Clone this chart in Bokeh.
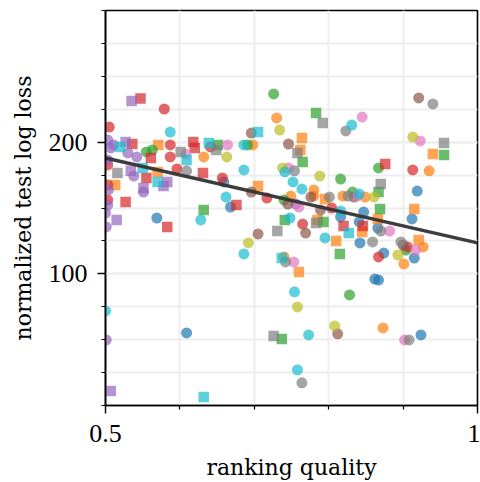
from bokeh.plotting import figure
from bokeh.models import FixedTicker, Range1d, ColumnDataSource
from bokeh.embed import file_html
from bokeh.resources import INLINE

# ---------------- data ----------------
blue_quality = [0.659, 0.668, 0.569, 0.609, 0.816, 0.847, 0.841, 0.866, 0.919, 0.912, 0.842, 0.874, 0.915, 0.862, 0.867, 0.924]
blue_loss    = [169.8, 150.7, 142.4, 55.1, 143.2, 146.9, 139.4, 134.8, 162.9, 141.7, 123.5, 115.8, 112.0, 96.0, 95.3, 53.6]
blue_shape   = ["c"] * 16

orange_quality = [0.571, 0.632, 0.570, 0.513, 0.730, 0.698, 0.764, 0.762, 0.705, 0.749, 0.780, 0.780, 0.795, 0.819,
                  0.849, 0.940, 0.935, 0.915, 0.921, 0.927, 0.901, 0.785, 0.810, 0.866, 0.845, 0.740, 0.760, 0.873]
orange_loss    = [197.9, 188.8, 177.4, 167.5, 218.4, 197.9, 203.2, 194.1, 166.7, 159.1, 163.7, 159.1, 156.8, 159.1,
                  158.3, 191.0, 178.2, 149.2, 125.7, 120.4, 107.5, 140.9, 125.0, 141.7, 131.8, 112.8, 101.4, 58.9]
orange_shape   = ["s", "c", "s", "s", "c", "c", "s", "s", "s", "c", "c", "c", "s", "c",
                  "c", "s", "c", "s", "s", "c", "c", "s", "s", "s", "s", "c", "s", "c"]

green_quality = [0.555, 0.563, 0.651, 0.632, 0.726, 0.783, 0.691, 0.765, 0.816, 0.740, 0.741, 0.793, 0.867, 0.867,
                 0.955, 0.869, 0.832, 0.815, 0.828, 0.737, 0.904]
green_loss    = [192.6, 194.1, 197.9, 148.5, 236.6, 222.2, 197.9, 185.0, 172.0, 156.1, 140.9, 139.4, 162.1, 180.4,
                 190.3, 149.2, 162.1, 115.1, 84.0, 50.6, 118.1]
green_shape   = ["c", "c", "s", "s", "c", "s", "c", "s", "c", "c", "s", "s", "s", "c",
                 "s", "s", "c", "s", "c", "s", "c"]

red_quality = [0.547, 0.579, 0.505, 0.536, 0.587, 0.618, 0.620, 0.641, 0.587, 0.561, 0.596, 0.631, 0.555, 0.527,
               0.657, 0.676, 0.583, 0.717, 0.804, 0.765, 0.820, 0.846, 0.876, 0.913, 0.906, 0.867, 0.503, 0.503, 0.503]
red_loss    = [233.2, 225.2, 211.5, 198.6, 197.9, 200.2, 195.6, 196.4, 188.8, 188.0, 179.7, 176.6, 172.8, 154.5,
               172.8, 152.2, 135.6, 157.6, 150.0, 137.8, 136.3, 136.3, 183.5, 178.9, 120.4, 112.8, 182.7, 167.5, 156.1]
red_shape   = ["s", "c", "c", "s", "c", "s", "s", "c", "c", "s", "c", "s", "s", "s",
               "c", "s", "s", "c", "c", "c", "s", "s", "s", "c", "c", "c", "c", "c", "c"]

purple_quality = [0.535, 0.527, 0.507, 0.503, 0.511, 0.530, 0.542, 0.534, 0.538, 0.583, 0.578, 0.551, 0.551, 0.515,
                  0.501, 0.500, 0.503, 0.501, 0.507, 0.756, 0.503, 0.504]
purple_loss    = [231.3, 200.2, 195.6, 201.7, 197.9, 191.8, 188.8, 178.2, 174.3, 169.8, 166.7, 165.2, 162.1, 140.9,
                  135.6, 146.2, 152.2, 49.8, 11.0, 153.0, 186.5, 163.7]
purple_shape   = ["s", "s", "c", "c", "c", "c", "c", "s", "c", "s", "s", "s", "c", "s",
                  "c", "c", "c", "c", "s", "c", "c", "c"]

brown_quality = [0.696, 0.746, 0.696, 0.745, 0.776, 0.789, 0.769, 0.705, 0.921, 0.900, 0.812, 0.834]
brown_loss    = [206.9, 198.6, 162.1, 153.0, 158.3, 148.5, 131.0, 130.3, 233.6, 121.9, 54.4, 158.3]
brown_shape   = ["c"] * 12

pink_quality = [0.608, 0.664, 0.746, 0.760, 0.845, 0.923, 0.838, 0.753, 0.882, 0.917, 0.902]
pink_loss    = [191.0, 197.9, 180.4, 150.7, 219.1, 200.9, 159.1, 109.0, 132.5, 118.1, 49.8]
pink_shape   = ["c"] * 11

gray_quality = [0.601, 0.649, 0.516, 0.609, 0.792, 0.823, 0.758, 0.754, 0.801, 0.826, 0.870, 0.955, 0.940, 0.731,
                0.783, 0.870, 0.897, 0.742, 0.726, 0.908, 0.764, 0.859]
gray_loss    = [192.6, 194.1, 176.6, 178.2, 214.6, 208.5, 191.8, 178.2, 158.3, 159.1, 168.3, 199.4, 229.0, 132.5,
                138.6, 132.5, 124.2, 109.0, 52.8, 49.8, 17.2, 124.2]
gray_shape   = ["s", "s", "s", "c", "s", "c", "s", "c", "c", "c", "s", "s", "c", "s",
                "s", "c", "c", "c", "s", "c", "c", "c"]

olive_quality = [0.663, 0.734, 0.738, 0.788, 0.861, 0.913, 0.692, 0.893, 0.758, 0.808]
olive_loss    = [188.8, 209.2, 180.4, 174.3, 158.3, 203.9, 123.5, 114.3, 74.9, 60.4]
olive_shape   = ["c"] * 10

cyan_quality = [0.587, 0.520, 0.639, 0.609, 0.550, 0.570, 0.662, 0.628, 0.686, 0.705, 0.831, 0.686, 0.741, 0.752,
                0.764, 0.816, 0.748, 0.827, 0.795, 0.686, 0.737, 0.754, 0.758, 0.773, 0.841, 0.500, 0.632]
cyan_loss    = [207.7, 196.4, 199.4, 186.5, 180.4, 169.8, 158.3, 140.9, 197.9, 207.7, 213.0, 178.9, 177.4, 169.8,
                164.4, 147.7, 142.4, 131.0, 127.3, 115.1, 112.0, 86.3, 27.0, 53.6, 160.6, 71.8, 6.5]
cyan_shape   = ["c", "s", "s", "s", "s", "s", "c", "c", "c", "s", "c", "c", "c", "c",
                "c", "c", "c", "s", "c", "c", "s", "c", "c", "c", "c", "c", "s"]

# fitted trend line (end points in data units)
trend_quality = [0.5, 1.0]
trend_loss = [188.0, 123.5]

x_major = [0.5, 1.0]
x_minor = [0.6, 0.7, 0.8, 0.9]
y_major = [100, 200]
y_minor = [0, 25, 50, 75, 100, 125, 150, 175, 200, 225, 250, 275, 300]

groups = [
    (blue_quality, blue_loss, blue_shape, "#1f77b4"),
    (orange_quality, orange_loss, orange_shape, "#ff7f0e"),
    (green_quality, green_loss, green_shape, "#2ca02c"),
    (red_quality, red_loss, red_shape, "#d62728"),
    (purple_quality, purple_loss, purple_shape, "#9467bd"),
    (brown_quality, brown_loss, brown_shape, "#8c564b"),
    (pink_quality, pink_loss, pink_shape, "#e377c2"),
    (gray_quality, gray_loss, gray_shape, "#7f7f7f"),
    (olive_quality, olive_loss, olive_shape, "#bcbd22"),
    (cyan_quality, cyan_loss, cyan_shape, "#17becf"),
]

TICK_FONT = "Liberation Serif"
LABEL_FONT = "DejaVu Serif"

p = figure(width=480, height=482, x_range=Range1d(0.5, 1.0), y_range=Range1d(0, 300),
           output_backend="svg", toolbar_location=None,
           min_border_left=105, min_border_right=3, min_border_top=10, min_border_bottom=76)
p.background_fill_color = "white"
p.border_fill_color = "white"
p.outline_line_color = "black"
p.outline_line_width = 1.6

xt = FixedTicker(ticks=x_major, minor_ticks=x_minor)
yt = FixedTicker(ticks=y_major, minor_ticks=y_minor)
p.xaxis.ticker = xt
p.yaxis.ticker = yt
p.xgrid.ticker = xt
p.ygrid.ticker = yt
p.xaxis.major_label_overrides = {0.5: "0.5", 1: "1"}

for g in (p.xgrid, p.ygrid):
    g.grid_line_color = "#eeeeee"
    g.grid_line_width = 2
    g.minor_grid_line_color = "#eeeeee"
    g.minor_grid_line_width = 2

for ax in (p.xaxis, p.yaxis):
    ax.axis_line_color = "black"
    ax.axis_line_width = 1.6
    ax.major_tick_line_color = "black"
    ax.major_tick_line_width = 1.4
    ax.minor_tick_line_color = "black"
    ax.minor_tick_line_width = 1.2
    ax.major_tick_in = 0
    ax.major_tick_out = 8
    ax.minor_tick_in = 0
    ax.minor_tick_out = 4
    ax.major_label_text_font = TICK_FONT
    ax.major_label_text_font_size = "26px"
    ax.major_label_text_color = "black"
    ax.axis_label_text_font = LABEL_FONT
    ax.axis_label_text_font_size = "22px"
    ax.axis_label_text_font_style = "normal"
    ax.axis_label_text_color = "black"

p.xaxis.axis_label = "ranking quality"
p.yaxis.axis_label = "normalized test log loss"
p.xaxis.major_label_standoff = 11
p.xaxis.axis_label_standoff = 10
p.yaxis.major_label_standoff = 10
p.yaxis.axis_label_standoff = 10

shape_names = {"c": "circle", "s": "square"}
for qx, ly, sh, col in groups:
    for code, size in (("c", 11), ("s", 10.5)):
        xs = [a for a, m in zip(qx, sh) if m == code]
        ys = [b for b, m in zip(ly, sh) if m == code]
        if not xs:
            continue
        src = ColumnDataSource(data=dict(x=xs, y=ys))
        p.scatter("x", "y", source=src, marker=shape_names[code], size=size,
                  fill_color=col, fill_alpha=0.7, line_color=None)

p.line(trend_quality, trend_loss, line_color="#333333", line_width=3.5, line_alpha=0.95)

open("out.html", "w").write(file_html(p, INLINE))
